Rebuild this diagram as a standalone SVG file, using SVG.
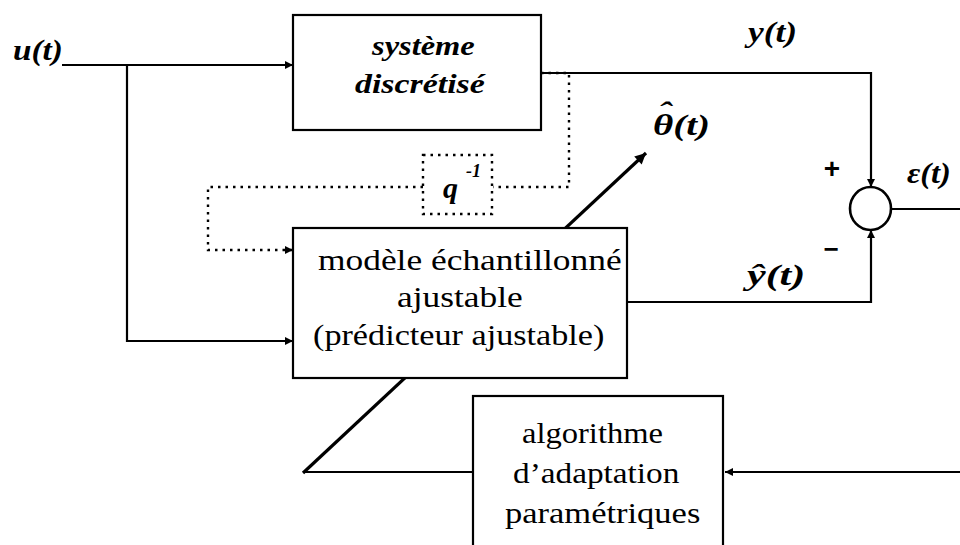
<svg xmlns="http://www.w3.org/2000/svg" width="960" height="545" viewBox="0 0 960 545">
  <style>
    .box { fill: #fff; stroke: #000; stroke-width: 2.2; }
    .dbox { fill: none; stroke: #000; stroke-width: 2.4; stroke-dasharray: 2.5 5; }
    .wire { fill: none; stroke: #000; stroke-width: 2.2; }
    .dot { fill: none; stroke: #000; stroke-width: 2.4; stroke-dasharray: 2.5 5; }
    .thick { fill: none; stroke: #000; stroke-width: 3.2; }
  </style>
  <defs>
    <marker id="arr" viewBox="0 0 10 10" refX="10" refY="5" markerWidth="9" markerHeight="8" markerUnits="userSpaceOnUse" orient="auto">
      <path d="M0,0 L10,5 L0,10 z" fill="#000"/>
    </marker>
    <marker id="arrBig" viewBox="0 0 10 10" refX="10" refY="5" markerWidth="13" markerHeight="11" markerUnits="userSpaceOnUse" orient="auto">
      <path d="M0,0 L10,5 L0,10 z" fill="#000"/>
    </marker>
  </defs>

  <!-- connectors -->
  <g id="connectors">
    <!-- input u(t) to the discretised system and to the adjustable model -->
    <path class="wire" d="M62,65 H293" marker-end="url(#arr)"/>
    <path class="wire" d="M127,65 V341 H293" marker-end="url(#arr)"/>
    <!-- plant output y(t) to the summing junction -->
    <path class="wire" d="M541,73 H871 V187" marker-end="url(#arr)"/>
    <!-- predictor output to the summing junction -->
    <path class="wire" d="M627,302 H871 V230" marker-end="url(#arr)"/>
    <!-- error e(t) going out and back to the adaptation algorithm -->
    <path class="wire" d="M891,209 H960"/>
    <path class="wire" d="M960,472 H725" marker-end="url(#arr)"/>
    <!-- delayed measurements through q^-1 -->
    <path class="dot" d="M541,73 H569 V187 H493"/>
    <path class="dot" d="M423,187 H208 V250 H293" marker-end="url(#arr)"/>
    <!-- parameter update: adaptation output through the model to theta-hat -->
    <path class="wire" d="M473,472 H303"/>
    <path class="thick" d="M303,473 L646,153" marker-end="url(#arrBig)"/>
  </g>

  <!-- discretised system (text slightly widened horizontally) -->
  <g id="systeme" font-family="Liberation Serif" font-style="italic" font-weight="bold" font-size="28">
    <rect class="box" x="293" y="15" width="248" height="115"/>
    <text transform="matrix(1.16 0 0 1 372 55)">système</text>
    <text transform="matrix(1.21 0 0 1 355 93)">discrétisé</text>
  </g>

  <!-- delay operator -->
  <g id="retard" font-family="Liberation Serif" font-style="italic" font-weight="bold">
    <rect class="dbox" x="423" y="155" width="69" height="59"/>
    <text x="443" y="198" font-size="30">q<tspan x="466" y="177" font-size="18">-1</tspan></text>
  </g>

  <!-- adjustable sampled model -->
  <g id="modele" font-family="Liberation Serif" font-size="30">
    <rect class="box" x="293" y="228" width="334" height="150"/>
    <text transform="matrix(1.18 0 0 1 318 270)">modèle échantillonné</text>
    <text transform="matrix(1.18 0 0 1 397 307)">ajustable</text>
    <text transform="matrix(1.14 0 0 1 313 345)">(prédicteur ajustable)</text>
  </g>

  <!-- summing junction -->
  <g id="somme" font-family="Liberation Sans" font-weight="bold">
    <ellipse cx="870.5" cy="208.5" rx="20.5" ry="21.5" fill="#fff" stroke="#000" stroke-width="2.6"/>
    <text x="832" y="178" text-anchor="middle" font-size="28">+</text>
    <text x="831" y="258" text-anchor="middle" font-size="26">−</text>
  </g>

  <!-- parameter adaptation algorithm -->
  <g id="algorithme" font-family="Liberation Serif" font-size="30">
    <rect class="box" x="473" y="396" width="250" height="170"/>
    <text transform="matrix(1.085 0 0 1 522 443)">algorithme</text>
    <text transform="matrix(1.11 0 0 1 513 483)">d’adaptation</text>
    <text transform="matrix(1.15 0 0 1 505 523)">paramétriques</text>
  </g>

  <!-- signal labels -->
  <g id="labels" font-family="Liberation Serif" font-style="italic" font-weight="bold" font-size="30">
    <text transform="matrix(1.11 0 0 1 13 60)">u(t)</text>
    <text transform="matrix(1.18 0 0 1 748 42)">y(t)</text>
    <text transform="matrix(1.3 0 0 1 653 135)">θ(t)<tspan x="4" y="-13">ˆ</tspan></text>
    <text transform="matrix(1.08 0 0 1 907 183)">ε(t)</text>
    <text transform="matrix(1.4 0 0 1 747 285)">ŷ(t)</text>
  </g>
</svg>
